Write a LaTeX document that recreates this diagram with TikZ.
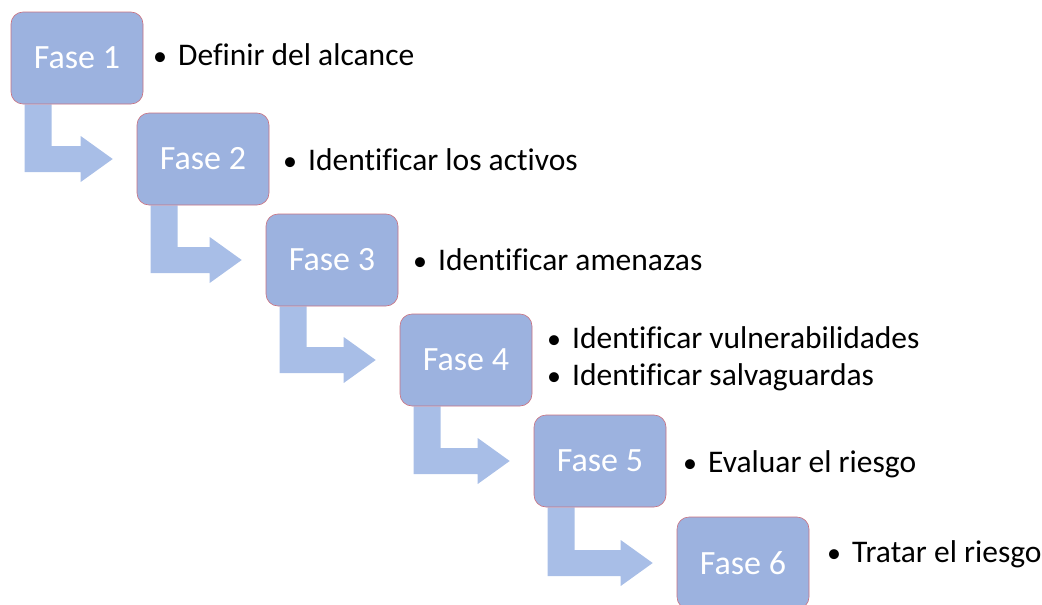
\documentclass[tikz,border=0pt]{standalone}
\usepackage{fontspec}
\setmainfont[Ligatures=NoCommon]{Carlito}
\usetikzlibrary{calc}
\definecolor{boxfill}{HTML}{9CB2DF}
\definecolor{arrowfill}{HTML}{A8BEE7}
\definecolor{boxedge}{HTML}{C9707F}
\tikzset{
  fase/.style={draw=boxedge, line width=0.6pt, fill=boxfill, rounded corners=12pt,
    minimum width=132pt, minimum height=92pt, inner sep=0pt, text=white,
    font=\fontsize{34}{40}\selectfont},
  item/.style={anchor=base west, inner sep=0pt, text=black,
    font=\fontsize{31.5}{36}\selectfont},
  bul/.style={anchor=base west, inner sep=0pt, text=black,
    font=\fontsize{28}{36}\selectfont},
  flow/.style={fill=arrowfill, draw=none}
}
\begin{document}
\begin{tikzpicture}[x=1pt, y=-1pt]
\useasboundingbox (0,0) rectangle (1042,605);
\path (77,58) coordinate (c1) (203,159) coordinate (c2) (332,260) coordinate (c3)
      (466,360) coordinate (c4) (600,461) coordinate (c5) (743,563) coordinate (c6);
\foreach \i in {1,...,6} {
  \path (c\i) node[fase, draw=none, fill=none, text opacity=0] (g\i) {Fase \i};
}
% arrows
\foreach \a/\b in {1/2,2/3,3/4,4/5,5/6} {
  \fill[flow] let \p1=(g\a.south west), \p2=(g\b.west) in
    (\x1+14pt,\y1) -- (\x1+14pt,\y2-13pt) -- (\x2-56pt,\y2-13pt) -- (\x2-56pt,\y2-23pt)
    -- (\x2-24pt,\y2) -- (\x2-56pt,\y2+23pt) -- (\x2-56pt,\y2+13pt)
    -- (\x1+41pt,\y2+13pt) -- (\x1+41pt,\y1) -- cycle;
}
\foreach \i in {1,...,6} {
  \node[fase] (b\i) at (c\i) {Fase \i};
}
% bullet texts
\node[bul] (u1) at (153,65) {•};  \node[item] (t1) at (178,65) {Definir del alcance};
\node[bul] (u2) at (283,170) {•}; \node[item] (t2) at (308,170) {Identificar los activos};
\node[bul] (u3) at (413,270) {•}; \node[item] (t3) at (438,270) {Identificar amenazas};
\node[bul] (u4a) at (547,348) {•}; \node[item] (t4a) at (572,348) {Identificar vulnerabilidades};
\node[bul] (u4b) at (547,385) {•}; \node[item] (t4b) at (572,385) {Identificar salvaguardas};
\node[bul] (u5) at (683,472) {•}; \node[item] (t5) at (708,472) {Evaluar el riesgo};
\node[bul] (u6) at (827,562) {•}; \node[item] (t6) at (852,562) {Tratar el riesgo};
\end{tikzpicture}
\end{document}
